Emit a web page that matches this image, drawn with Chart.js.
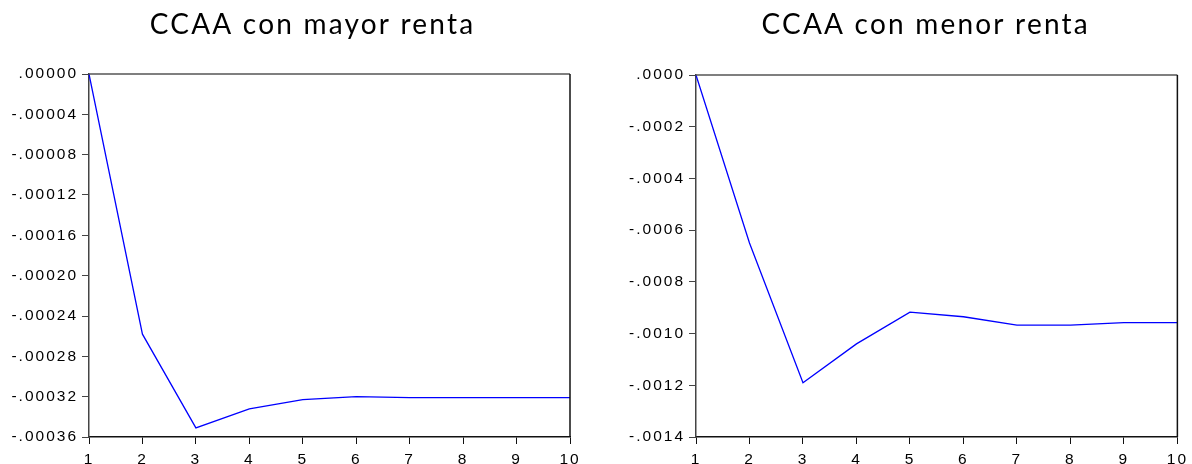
<!DOCTYPE html>
<html>
<head>
<meta charset="utf-8">
<script src="https://cdn.jsdelivr.net/npm/chart.js@4.4.1/dist/chart.umd.min.js"></script>
<style>
    body { margin: 0; background: #fff; }
    #wrap { position: relative; width: 1192px; height: 464px; }
    canvas { position: absolute; top: 0; }
</style>
</head>
<body>
<div id="wrap">
    <canvas id="chartMayor" width="600" height="464" style="left:0"></canvas>
    <canvas id="chartMenor" width="592" height="464" style="left:600px"></canvas>
</div>
<script>
// periods on the x axis
const periods = ['1', '2', '3', '4', '5', '6', '7', '8', '9', '10'];

// response, regions with higher income
const mayorValues = [0, -0.000258, -0.000351, -0.000332, -0.000323, -0.000320, -0.000321, -0.000321, -0.000321, -0.000321];
// response, regions with lower income
const menorValues = [0, -0.00065, -0.00119, -0.00104, -0.000917, -0.000935, -0.000967, -0.000967, -0.000958, -0.000958];

// y tick values
const mayorTicks = [0, -0.00004, -0.00008, -0.00012, -0.00016, -0.00020, -0.00024, -0.00028, -0.00032, -0.00036];
const menorTicks = [0, -0.0002, -0.0004, -0.0006, -0.0008, -0.0010, -0.0012, -0.0014];

const titles = ['CCAA con mayor renta', 'CCAA con menor renta'];

// draws the top/right frame and the panel title
const framePlugin = {
    id: 'frameTitle',
    beforeDraw(chart) {
        chart.ctx.letterSpacing = '2px';
    },
    afterDraw(chart, args, opts) {
        const ctx = chart.ctx, a = chart.chartArea;
        ctx.save();
        ctx.letterSpacing = '0px';
        ctx.lineWidth = 1.5;
        ctx.strokeStyle = '#555';
        ctx.beginPath();
        ctx.moveTo(a.left, a.top);
        ctx.lineTo(a.right, a.top);
        ctx.stroke();
        ctx.strokeStyle = '#111';
        ctx.beginPath();
        ctx.moveTo(a.right, a.top);
        ctx.lineTo(a.right, a.bottom);
        ctx.stroke();

        ctx.font = '28px Lato';
        ctx.fillStyle = '#000';
        ctx.textAlign = 'center';
        ctx.textBaseline = 'alphabetic';
        ctx.letterSpacing = opts.spacing;
        ctx.fillText(opts.text, (a.left + a.right) / 2 + opts.offset, 34);
        ctx.restore();
    }
};

function fmt(decimals) {
    return function(v) {
        const s = Math.abs(v).toFixed(decimals).replace(/^0/, '');
        return (v < -1e-12 ? '-' : '') + s;
    };
}

function makeChart(id, values, ticks, decimals, title, opt) {
    const ctx = document.getElementById(id).getContext('2d');
    return new Chart(ctx, {
        type: 'line',
        data: {
            labels: periods,
            datasets: [{
                data: values,
                borderColor: '#0000ff',
                borderWidth: 1.3,
                pointRadius: 0,
                tension: 0,
                fill: false
            }]
        },
        options: {
            responsive: false,
            animation: false,
            devicePixelRatio: 1,
            layout: { padding: { top: opt.top, right: opt.right, left: 0, bottom: 0 } },
            plugins: {
                legend: { display: false },
                tooltip: { enabled: false },
                title: { display: false },
                frameTitle: { text: title, offset: opt.titleOffset, spacing: '2.2px' }
            },
            scales: {
                x: {
                    offset: false,
                    grid: { display: true, drawOnChartArea: false, drawTicks: true, tickLength: 7, color: '#111', offset: false },
                    border: { display: true, color: '#111', width: 1.5 },
                    ticks: { color: '#000', font: { family: 'Liberation Sans', size: 15.5 }, padding: 6, maxRotation: 0, autoSkip: false },
                    afterFit: s => { s.height = 27; }
                },
                y: {
                    min: ticks[ticks.length - 1],
                    max: ticks[0],
                    afterBuildTicks: s => { s.ticks = ticks.map(v => ({ value: v })); },
                    grid: { display: true, drawOnChartArea: false, drawTicks: true, tickLength: 7, color: '#444' },
                    border: { display: true, color: '#444', width: 1.5 },
                    ticks: { color: '#000', font: { family: 'Liberation Sans', size: 15.5 }, padding: 4, callback: fmt(decimals) },
                    afterFit: s => { s.width = opt.yWidth; }
                }
            }
        },
        plugins: [framePlugin]
    });
}

makeChart('chartMayor', mayorValues, mayorTicks, 5, titles[0], { top: 74, right: 30, yWidth: 89, titleOffset: -17 });
makeChart('chartMenor', menorValues, menorTicks, 4, titles[1], { top: 75, right: 12, yWidth: 96, titleOffset: -11 });
</script>
</body>
</html>
